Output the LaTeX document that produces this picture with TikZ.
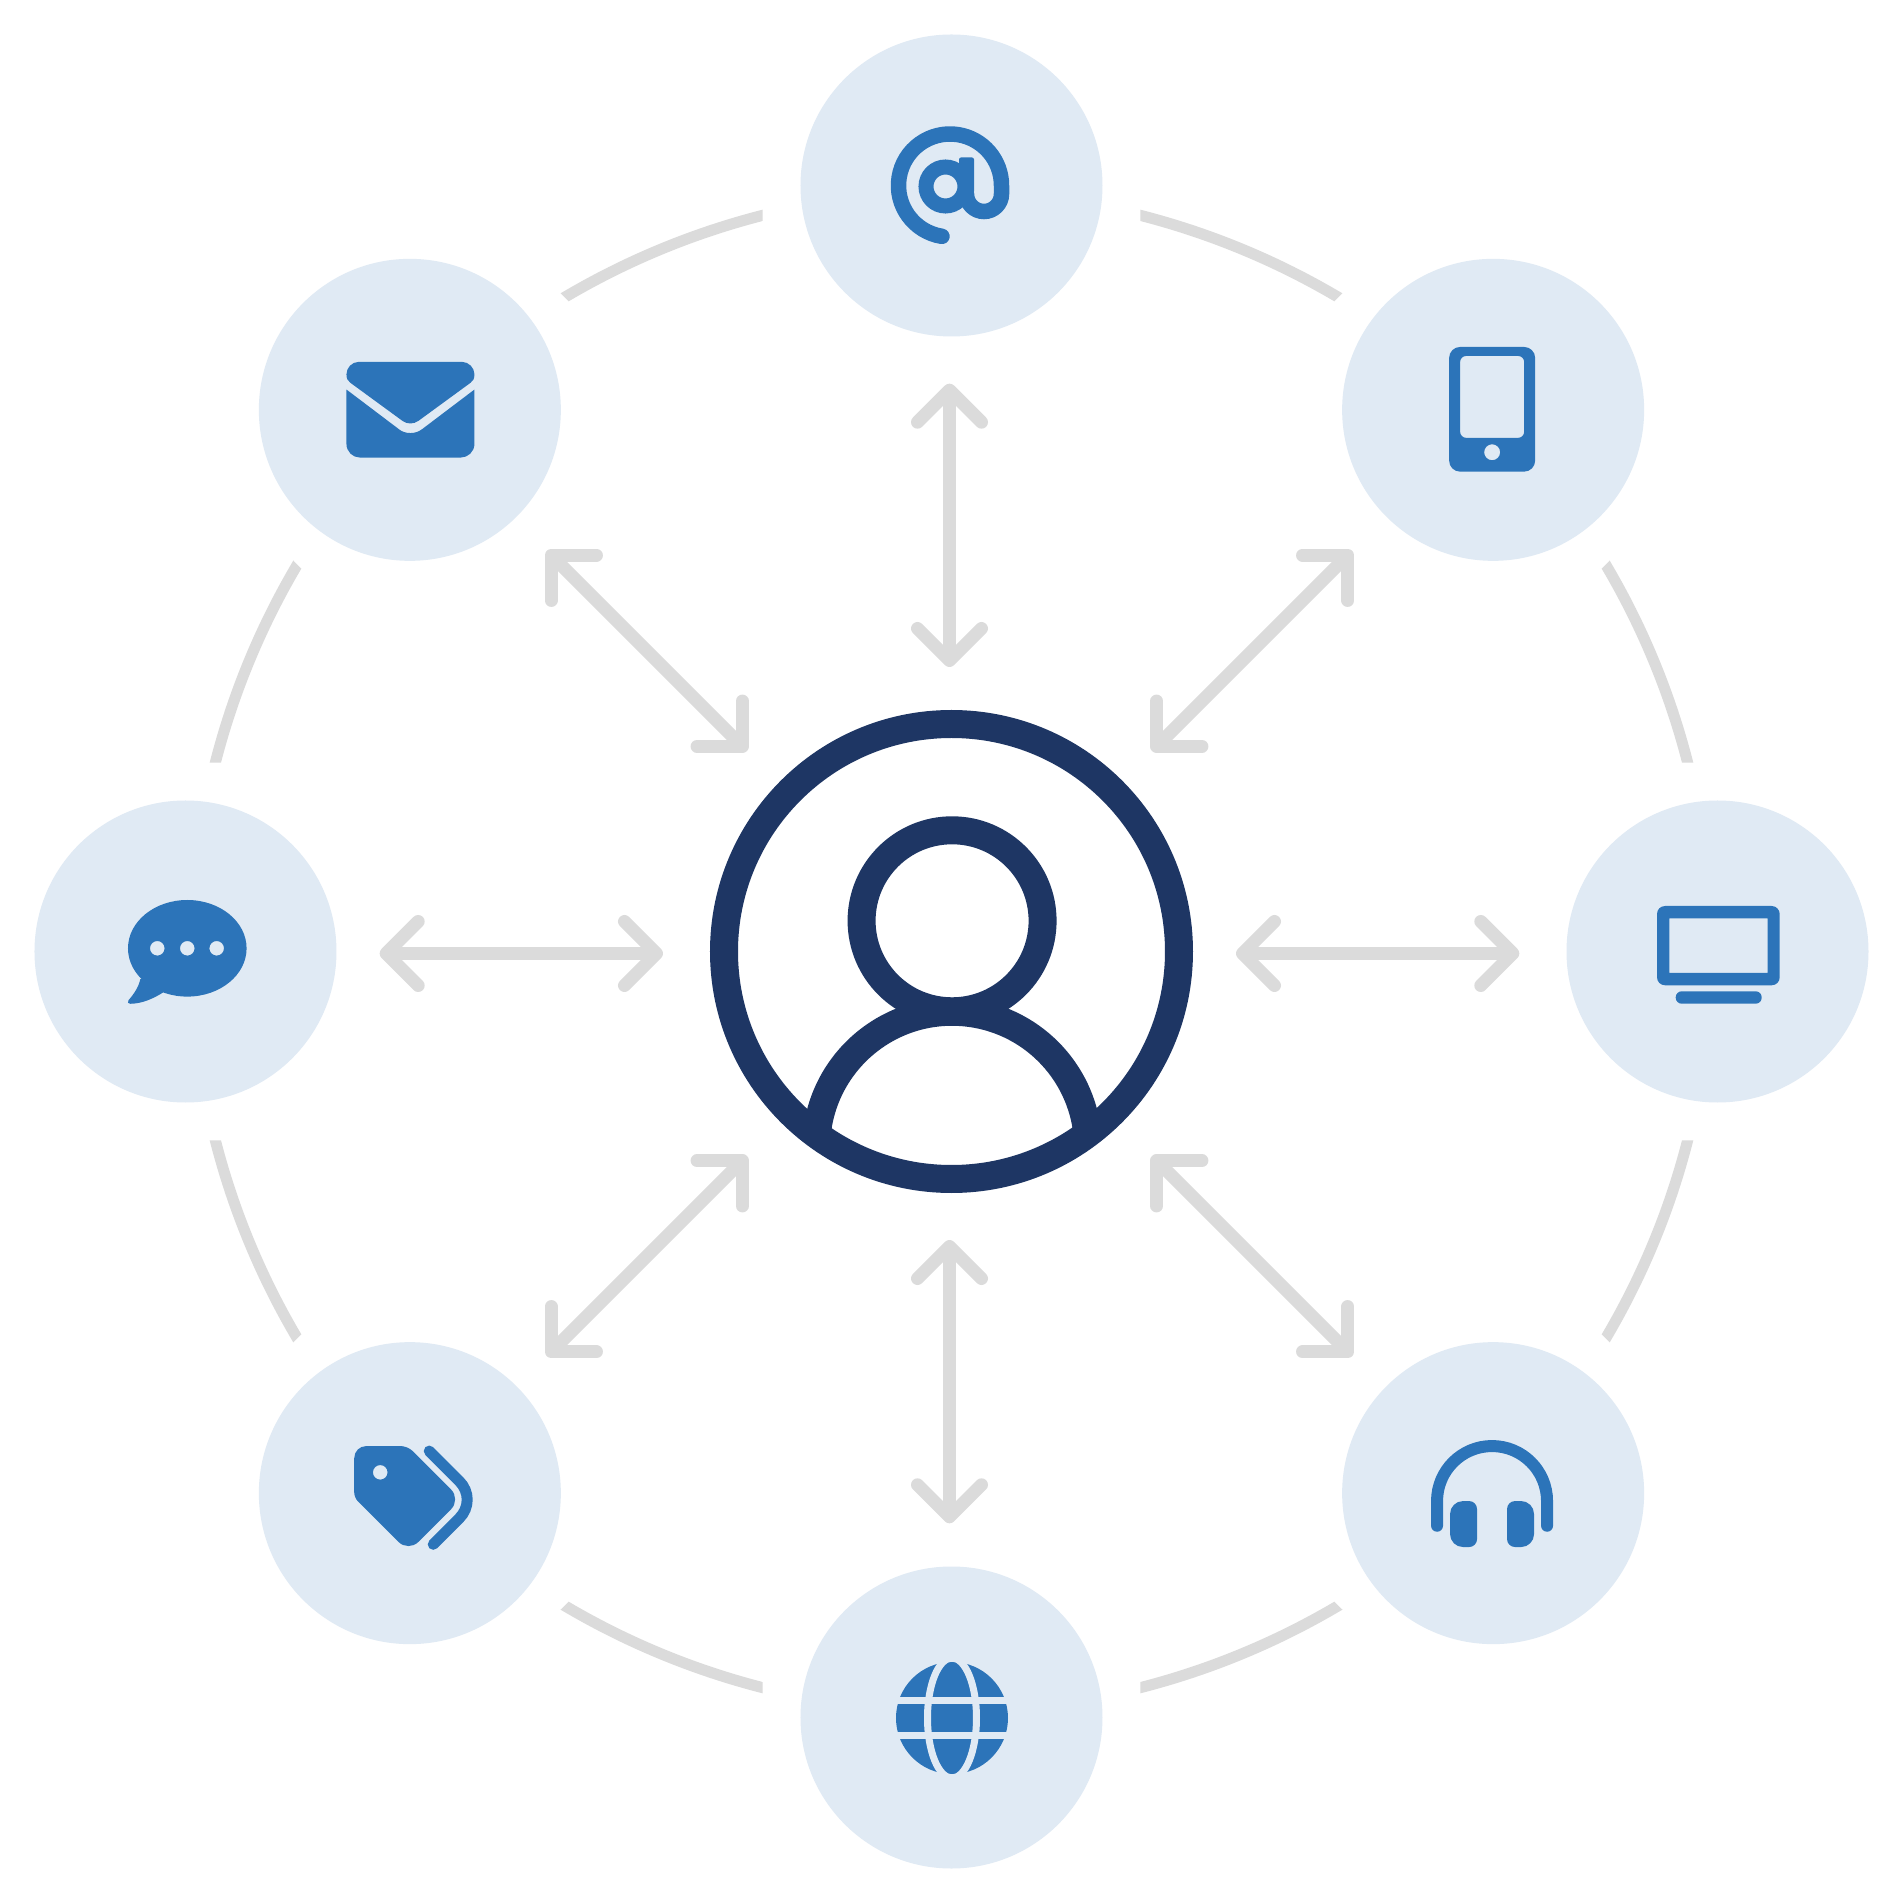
\documentclass[tikz,border=0pt]{standalone}
\usepackage{xcolor}
\usepackage{tikz}
\usetikzlibrary{arrows.meta,calc}
\definecolor{satblue}{HTML}{E0EAF4}
\definecolor{iconblue}{HTML}{2C74B9}
\definecolor{navy}{HTML}{1E3664}
\definecolor{linkgray}{HTML}{DBDBDB}

\begin{document}
\begin{tikzpicture}[
  x=1pt, y=1pt,
  hub/.style={circle, draw=navy, fill=white, line width=28pt, minimum size=455pt, inner sep=0pt},
  sat/.style={circle, fill=satblue, minimum size=302pt, inner sep=0pt},
  link/.style={draw=linkgray, line width=13pt, shorten <=45pt, shorten >=45pt,
               transform canvas={xshift=-2pt, yshift=-2pt},
               {Straight Barb[round, length=32pt, width=64pt]}-{Straight Barb[round, length=32pt, width=64pt]}},
  ring/.style={draw=linkgray, line width=11pt},
  icon/.style={fill=iconblue},
  iconline/.style={draw=iconblue, line cap=round},
  gap/.style={draw=satblue, line width=7pt},
  person/.style={draw=navy, line width=28pt}
]
  \path[fill=white, use as bounding box] (-951.5,-948.5) rectangle (948.5,951.5);
  \node[hub] (user) at (0,0) {};
  \node[sat] (addr) at (90:766) {};
  \node[sat] (tablet) at (45:766) {};
  \node[sat] (monitor) at (0:766) {};
  \node[sat] (phones) at (-45:766) {};
  \node[sat] (globe) at (-90:766) {};
  \node[sat] (tags) at (-135:766) {};
  \node[sat] (chat) at (180:766) {};
  \node[sat] (mail) at (135:766) {};
  \draw[link] (addr) -- (user);
  \draw[link] (tablet) -- (user);
  \draw[link] (monitor) -- (user);
  \draw[link] (phones) -- (user);
  \draw[link] (globe) -- (user);
  \draw[link] (tags) -- (user);
  \draw[link] (chat) -- (user);
  \draw[link] (mail) -- (user);
  \foreach \a [count=\n] in {22.5,67.5,...,337.5}{
    \begin{scope}
      \clip[rotate=\a] (733.9,99.4) -- (770.9,114.8) -- (770.9,-114.8) -- (733.9,-99.4) -- cycle;
      \coordinate (ring\n a) at (\a-9.5:760);
      \coordinate (ring\n b) at (\a+9.5:760);
      \draw[ring] (ring\n a) to[bend right=9.5, looseness=0.86] (ring\n b);
    \end{scope}
  }
  \draw[person] (0.6,30.7) circle[radius=90.5];
  \draw[person] (0.6,-196.3) ++(175:136) arc[start angle=175, end angle=5, radius=136];

  \begin{scope}[shift={(addr.center)}]
    \draw[iconline, line width=15.5pt] (-1.5,0) ++(261:51.5) arc[start angle=261, end angle=0, radius=51.5]
      -- (50,-8.5) arc[start angle=0, end angle=-180, radius=17.5];
    \fill[icon, rounded corners=2pt] (7.5,28) rectangle (22.5,-8);
    \draw[draw=iconblue, line width=15pt] (-6,-1) circle[radius=19.5];
  \end{scope}

  \begin{scope}[shift={(mail.center)}]
    \fill[icon] (-51,48) -- (52,48) .. controls (59,48) and (64.6,42) .. (64.6,35.5)
      .. controls (64.6,31) and (63,28.5) .. (60.6,27) -- (8.6,-11)
      .. controls (4,-14.5) and (-3,-14.5) .. (-7.4,-11) -- (-59.4,27)
      .. controls (-62,29) and (-63.4,31) .. (-63.4,35.5)
      .. controls (-63.4,42) and (-58,48) .. (-51,48) -- cycle;
    \fill[icon] (-63.4,20.3) -- (-11,-19.3) .. controls (-5,-24.5) and (6,-24.5) .. (12.3,-19.3)
      -- (64.6,20.3) -- (64.6,-34) .. controls (64.6,-42) and (58,-47.7) .. (51,-47.7)
      -- (-50,-47.7) .. controls (-57,-47.7) and (-63.4,-42) .. (-63.4,-34) -- cycle;
  \end{scope}

  \begin{scope}[shift={(tablet.center)}]
    \fill[icon, even odd rule] [rounded corners=11pt] (-44,62.9) rectangle (42,-61.8)
      [rounded corners=6pt] (-33,53.9) rectangle (31,-28)
      (-1,-42.4) circle[radius=8];
  \end{scope}

  \begin{scope}[shift={(monitor.center)}]
    \fill[icon, even odd rule] [rounded corners=8pt] (-60.5,45.5) rectangle (62.2,-33.8)
      [sharp corners] (-48.2,33.2) rectangle (50.2,-21.5);
    \fill[icon, rounded corners=6pt] (-41.8,-39.8) rectangle (44.2,-52.2);
  \end{scope}

  \begin{scope}[shift={(phones.center)}]
    \draw[iconline, line width=12pt] (-56.1,-32.6) -- (-56.1,-7.9) arc[start angle=180, end angle=0, radius=55] -- (53.9,-32.6);
    \fill[icon] [rounded corners=8pt] (-16.1,-30) -- (-16.1,-7.9) [rounded corners=13pt] -- (-43.1,-7.9)
      -- (-43.1,-53.9) [rounded corners=8pt] -- (-16.1,-53.9) -- cycle;
    \fill[icon] [rounded corners=8pt] (13.9,-30) -- (13.9,-7.9) [rounded corners=13pt] -- (40.9,-7.9)
      -- (40.9,-53.9) [rounded corners=8pt] -- (13.9,-53.9) -- cycle;
  \end{scope}

  \begin{scope}[shift={(globe.center)}]
    \fill[icon] (0.5,-0.5) circle[radius=56];
    \draw[gap] (-58,17) -- (59,17);
    \draw[gap] (-58,-18) -- (59,-18);
    \draw[gap] (0.5,-0.5) ellipse[x radius=24.5, y radius=60];
  \end{scope}

  \begin{scope}[shift={(tags.center)}]
    \fill[icon, even odd rule] [rounded corners=12pt] (-29,47.1) -- (-55.6,47.1) [rounded corners=5pt] -- (-55.6,-4.5)
      [rounded corners=14pt] -- (-1.4,-58.7) -- (51.1,-6.2) [rounded corners=7pt] -- (-2.2,47.1) -- cycle
      [sharp corners] (-29.6,20.8) circle[radius=7.3];
    \draw[iconline, line width=11pt] (19.4,42.1) -- (49.4,12.1) .. controls (60,1.5) and (60,-14.6) .. (49.4,-25.2) -- (23.4,-51.2);
  \end{scope}

  \begin{scope}[shift={(chat.center)}]
    \fill[icon, even odd rule] (1.8,3.2) ellipse[x radius=59.3, y radius=48.3]
      (-28.2,3.2) circle[radius=7.3] (1.8,3.2) circle[radius=7.3] (31.2,3.2) circle[radius=7.3];
    \fill[icon] (-45.2,-27.8) .. controls (-47,-36) and (-52,-43) .. (-57,-48.8)
      .. controls (-58.5,-51) and (-57.5,-52.3) .. (-55,-52.3)
      .. controls (-43,-52) and (-32,-47) .. (-22.8,-41.2) -- (-10,-10) -- cycle;
  \end{scope}
\end{tikzpicture}
\end{document}
